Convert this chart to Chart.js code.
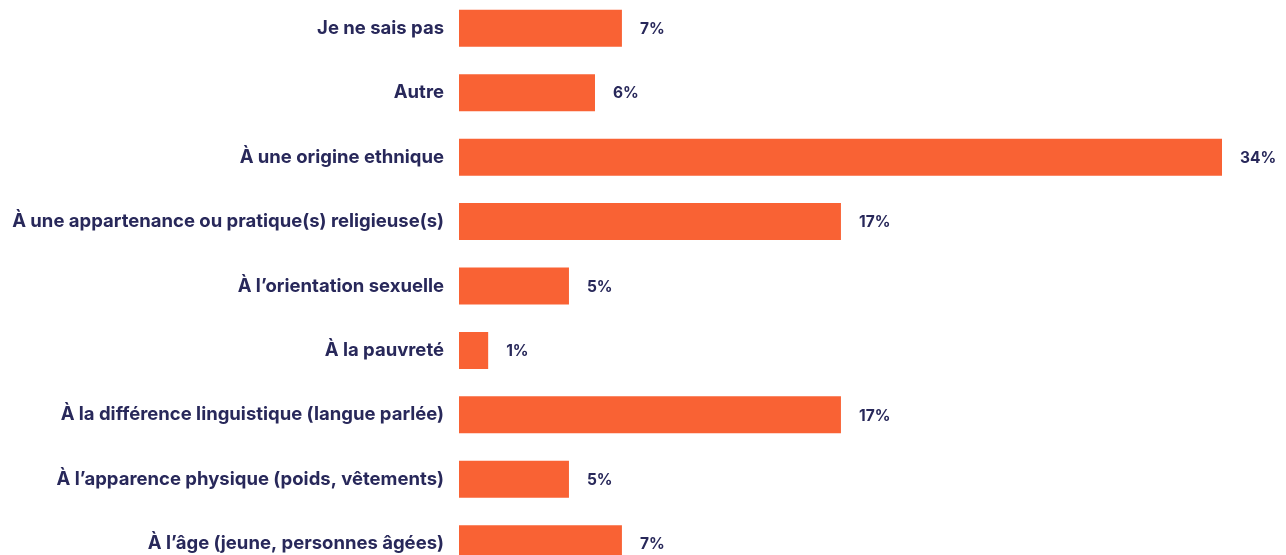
<!DOCTYPE html>
<html>
<head>
<meta charset="utf-8">
<script src="https://cdn.jsdelivr.net/npm/chart.js@4"></script>
<style>
  html, body { margin: 0; padding: 0; background: #fff; overflow: hidden; }
  #wrap { position: absolute; left: 0; top: -30px; width: 1286px; height: 632px; }
</style>
</head>
<body>
<div id="wrap"><canvas id="graphique"></canvas></div>
<script>
  // Données
  const categories = [
    "Je ne sais pas",
    "Autre",
    "À une origine ethnique",
    "À une appartenance ou pratique(s) religieuse(s)",
    "À l’orientation sexuelle",
    "À la pauvreté",
    "À la différence linguistique (langue parlée)",
    "À l’apparence physique (poids, vêtements)",
    "À l’âge (jeune, personnes âgées)"
  ];
  const valeurs = [7.26, 6.06, 34, 17.02, 4.9, 1.3, 17.02, 4.9, 7.26];
  const etiquettes = ["7%", "6%", "34%", "17%", "5%", "1%", "17%", "5%", "7%"];

  const orange = "#F96234";
  const marine = "#28285A";

  // Étiquettes de valeur à droite des barres
  const pluginEtiquettes = {
    id: "etiquettesValeurs",
    afterDatasetsDraw(chart) {
      const ctx = chart.ctx;
      const meta = chart.getDatasetMeta(0);
      ctx.save();
      ctx.fillStyle = marine;
      ctx.font = "bold 15.5px Inter";
      ctx.textAlign = "left";
      ctx.textBaseline = "middle";
      meta.data.forEach(function (barre, i) {
        ctx.fillText(etiquettes[i], barre.x + 18, barre.y + 1);
      });
      ctx.restore();
    }
  };

  new Chart(document.getElementById("graphique"), {
    type: "bar",
    data: {
      labels: categories,
      datasets: [{
        data: valeurs,
        backgroundColor: orange,
        borderWidth: 0,
        barPercentage: 0.575,
        categoryPercentage: 1
      }]
    },
    options: {
      indexAxis: "y",
      responsive: true,
      maintainAspectRatio: false,
      animation: false,
      layout: { padding: { left: 0, right: 64, top: 0, bottom: 0 } },
      plugins: {
        legend: { display: false },
        tooltip: { enabled: false }
      },
      scales: {
        x: {
          display: false,
          min: 0,
          max: 34
        },
        y: {
          grid: { display: false, drawTicks: false },
          border: { display: false },
          afterFit: function (scale) { scale.width = 459; },
          ticks: {
            color: marine,
            padding: 15,
            font: { family: "Inter", size: 18.5, weight: "bold" }
          }
        }
      }
    },
    plugins: [pluginEtiquettes]
  });
</script>
</body>
</html>
